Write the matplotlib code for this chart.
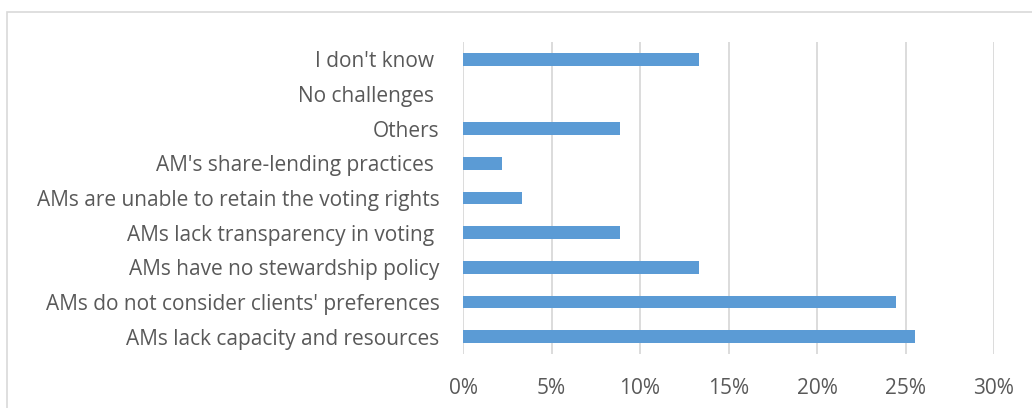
import matplotlib
matplotlib.use('Agg')
import matplotlib.pyplot as plt
from matplotlib.ticker import PercentFormatter

# categories bottom -> top
categories = ['AMs lack capacity and resources',
              "AMs do not consider clients' preferences",
              'AMs have no stewardship policy',
              'AMs lack transparency in voting ',
              'AMs are unable to retain the voting rights',
              "AM's share-lending practices ",
              'Others',
              'No challenges ',
              "I don't know "]
shares = [25.56, 24.44, 13.33, 8.89, 3.33, 2.22, 8.89, 0.0, 13.33]
x_ticks = [0, 5, 10, 15, 20, 25, 30]

plt.rcParams['font.family'] = ['Open Sans', 'DejaVu Sans']

fig = plt.figure(figsize=(10.32, 4.08), dpi=100)
ax = fig.add_axes([463/1032, 1 - 354/408, 531/1032, 312/408])

ax.barh(range(len(categories)), shares, height=0.36, color='#5B9BD5', zorder=3)

ax.set_xlim(0, 30)
ax.set_ylim(-0.5, len(categories) - 0.5)
ax.set_xticks(x_ticks)
ax.xaxis.set_major_formatter(PercentFormatter(decimals=0))
ax.set_yticks(range(len(categories)))
ax.set_yticklabels(categories)
ax.tick_params(axis='both', length=0, labelsize=15, colors='#595959')
ax.tick_params(axis='x', pad=17)
ax.tick_params(axis='y', pad=17)
ax.grid(axis='x', color='#D9D9D9', linewidth=1.3, zorder=0)
for s in ax.spines.values():
    s.set_visible(False)

# outer chart border
fig.add_artist(plt.Rectangle((7/1032, -0.1), 1.2, 1 - 12/408 + 0.1,
                             transform=fig.transFigure, fill=False,
                             edgecolor='#D9D9D9', linewidth=1.2))

fig.savefig('out.png', dpi=100)
